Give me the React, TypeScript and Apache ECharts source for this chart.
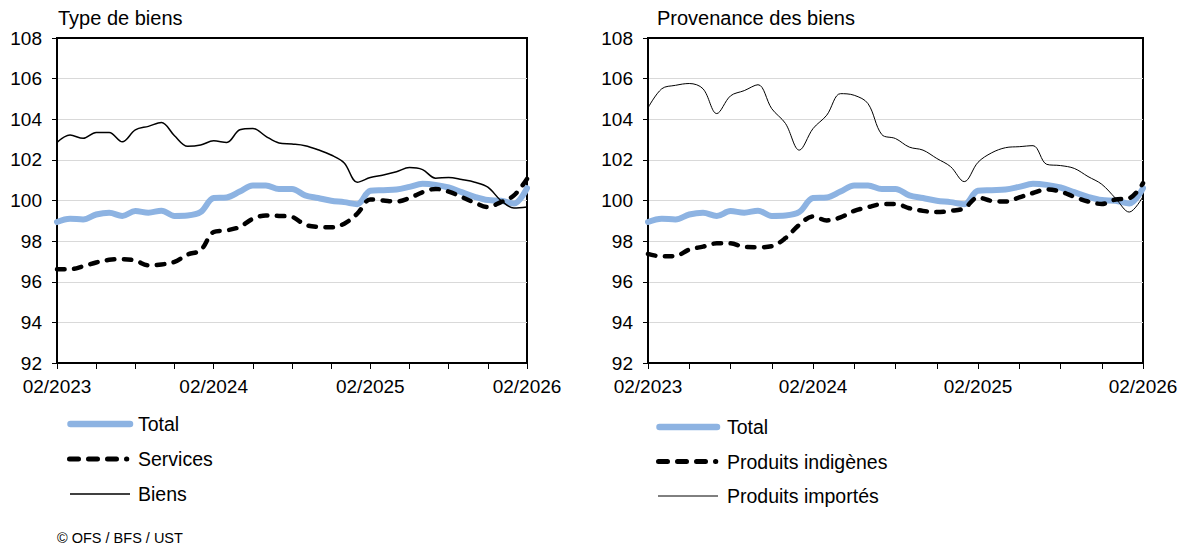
import React, { useEffect, useRef } from "react";
import * as echarts from "echarts";

const months: string[] = [
  "02/2023", "03/2023", "04/2023", "05/2023", "06/2023", "07/2023", "08/2023", "09/2023", "10/2023", "11/2023", "12/2023", "01/2024",
  "02/2024", "03/2024", "04/2024", "05/2024", "06/2024", "07/2024", "08/2024", "09/2024", "10/2024", "11/2024", "12/2024", "01/2025",
  "02/2025", "03/2025", "04/2025", "05/2025", "06/2025", "07/2025", "08/2025", "09/2025", "10/2025", "11/2025", "12/2025", "01/2026",
  "02/2026",
];

const total: number[] = [
  98.94, 99.1, 99.07, 99.31, 99.4, 99.24, 99.48, 99.4, 99.5, 99.24, 99.26, 99.43,
  100.12, 100.15, 100.44, 100.74, 100.74, 100.57, 100.57, 100.25, 100.12, 99.99, 99.92, 99.82,
  100.48, 100.51, 100.54, 100.67, 100.82, 100.77, 100.64, 100.41, 100.18, 100.02, 99.99, 99.85,
  100.61,
];

const services: number[] = [
  96.62, 96.62, 96.76, 96.95, 97.08, 97.11, 97.04, 96.81, 96.85, 96.98, 97.34, 97.55,
  98.45, 98.53, 98.7, 99.1, 99.26, 99.24, 99.19, 98.81, 98.7, 98.68, 98.86, 99.35,
  100.05, 100.0, 99.95, 100.12, 100.41, 100.57, 100.44, 100.17, 99.89, 99.68, 99.92, 100.25,
  101.06,
];

const biens: number[] = [
  102.86, 103.22, 103.06, 103.35, 103.35, 102.89, 103.48, 103.65, 103.84, 103.19, 102.67, 102.73,
  102.94, 102.86, 103.48, 103.55, 103.16, 102.83, 102.78, 102.7, 102.5, 102.24, 101.85, 100.9,
  101.13, 101.26, 101.42, 101.62, 101.52, 101.1, 101.13, 101.03, 100.9, 100.66, 100.0, 99.63,
  99.68,
];

const indigenes: number[] = [
  97.37, 97.25, 97.27, 97.58, 97.73, 97.89, 97.89, 97.71, 97.7, 97.75, 98.15, 98.8,
  99.22, 99.02, 99.17, 99.49, 99.67, 99.82, 99.83, 99.62, 99.49, 99.43, 99.49, 99.62,
  100.15, 99.98, 99.95, 100.15, 100.37, 100.55, 100.44, 100.18, 99.95, 99.83, 100.05, 100.11,
  100.85,
];

const importes: number[] = [
  104.56, 105.5, 105.67, 105.76, 105.5, 104.28, 105.15, 105.41, 105.7, 104.52, 103.79, 102.48,
  103.54, 104.2, 105.26, 105.18, 104.77, 103.25, 103.05, 102.63, 102.48, 102.07, 101.67, 100.93,
  101.88, 102.35, 102.6, 102.65, 102.7, 101.78, 101.72, 101.58, 101.18, 100.8, 100.11, 99.43,
  100.2,
];

const leftLegend: string[] = ["Total", "Services", "Biens"];
const rightLegend: string[] = ["Total", "Produits indigènes", "Produits importés"];

const FONT = '"Liberation Sans", Arial, sans-serif';
const BLUE = "#8db3e2";
const DASH = [7.5, 9.5];

export default function App() {
  const ref = useRef<HTMLDivElement>(null);

  useEffect(() => {
    document.body.style.margin = "0";
    if (!ref.current) return;
    const chart = echarts.init(ref.current, undefined, { renderer: "svg" });

    const makeX = (gridIndex: number) => ({
      type: "category" as const,
      gridIndex,
      data: months,
      boundaryGap: false,
      axisLine: { show: true, onZero: false, lineStyle: { color: "#000", width: 2 } },
      axisTick: {
        show: true,
        interval: (i: number) => i % 3 === 0,
        length: 6,
        lineStyle: { color: "#000", width: 1 },
      },
      axisLabel: {
        interval: (i: number) => i % 12 === 0,
        color: "#000",
        fontSize: 19,
        fontFamily: FONT,
        margin: 14,
      },
      splitLine: { show: false },
    });

    const makeY = (gridIndex: number) => ({
      type: "value" as const,
      gridIndex,
      min: 92,
      max: 108,
      interval: 2,
      axisLine: { show: true, lineStyle: { color: "#000", width: 2 } },
      axisTick: { show: true, length: 5, lineStyle: { color: "#000", width: 1 } },
      axisLabel: { color: "#000", fontSize: 19, fontFamily: FONT, margin: 15 },
      splitLine: { show: true, showMinLine: false, showMaxLine: false, lineStyle: { color: "#d9d9d9", width: 1 } },
    });

    const totalStyle = { color: BLUE, width: 6, cap: "round" as const, join: "round" as const };
    const dashStyle = { color: "#000", width: 4.5, type: DASH, cap: "round" as const, join: "round" as const };

    const legendText = (x: number, y: number, text: string) => ({
      type: "text",
      x,
      y,
      style: { text, fontSize: 19.5, fill: "#000", fontFamily: FONT, verticalAlign: "middle", align: "left" },
    });
    const legendLine = (x1: number, x2: number, y: number, style: any) => ({
      type: "line",
      shape: { x1, y1: y, x2, y2: y },
      style,
    });

    const lTotal = { stroke: BLUE, lineWidth: 6.5, lineCap: "round" };
    const lDash = { stroke: "#000", lineWidth: 5, lineCap: "round", lineDash: [9, 10] };

    const option: any = {
      animation: false,
      textStyle: { fontFamily: FONT },
      title: [
        { text: "Type de biens", left: 58, top: 8, padding: 0, textStyle: { fontSize: 20, fontWeight: "normal", color: "#000", fontFamily: FONT } },
        { text: "Provenance des biens", left: 657, top: 8, padding: 0, textStyle: { fontSize: 20, fontWeight: "normal", color: "#000", fontFamily: FONT } },
      ],
      grid: [
        { left: 57, right: 655, top: 38, bottom: 183, show: true, borderColor: "#000", borderWidth: 2, backgroundColor: "transparent" },
        { left: 648, right: 39, top: 38, bottom: 183, show: true, borderColor: "#000", borderWidth: 2, backgroundColor: "transparent" },
      ],
      xAxis: [makeX(0), makeX(1)],
      yAxis: [makeY(0), makeY(1)],
      graphic: [
        legendLine(70.5, 130, 424, lTotal),
        legendText(138, 424, leftLegend[0]),
        legendLine(69.5, 126.8, 459, lDash),
        legendText(138, 459, leftLegend[1]),
        legendLine(70, 130, 494, { stroke: "#000", lineWidth: 1.5 }),
        legendText(138, 494, leftLegend[2]),
        legendLine(659.5, 717, 427, lTotal),
        legendText(727, 427, rightLegend[0]),
        legendLine(658.5, 715.8, 461.5, lDash),
        legendText(727, 461.5, rightLegend[1]),
        legendLine(658, 718, 496, { stroke: "#000", lineWidth: 1 }),
        legendText(727, 496, rightLegend[2]),
        {
          type: "text",
          x: 57,
          y: 538,
          style: { text: "© OFS / BFS / UST", fontSize: 14.5, fill: "#000", fontFamily: FONT, verticalAlign: "middle" },
        },
      ],
      series: [
        { name: "Total", type: "line", xAxisIndex: 0, yAxisIndex: 0, data: total, smooth: 0.35, symbol: "none", lineStyle: totalStyle },
        { name: "Services", type: "line", xAxisIndex: 0, yAxisIndex: 0, data: services, smooth: 0.35, symbol: "none", lineStyle: dashStyle },
        { name: "Biens", type: "line", xAxisIndex: 0, yAxisIndex: 0, data: biens, smooth: 0.35, symbol: "none", lineStyle: { color: "#000", width: 1.5 } },
        { name: "Total ", type: "line", xAxisIndex: 1, yAxisIndex: 1, data: total, smooth: 0.35, symbol: "none", lineStyle: totalStyle },
        { name: "Produits indigènes", type: "line", xAxisIndex: 1, yAxisIndex: 1, data: indigenes, smooth: 0.35, symbol: "none", lineStyle: dashStyle },
        { name: "Produits importés", type: "line", xAxisIndex: 1, yAxisIndex: 1, data: importes, smooth: 0.35, symbol: "none", lineStyle: { color: "#000", width: 1 } },
      ],
    };

    chart.setOption(option);
    return () => {
      chart.dispose();
    };
  }, []);

  return <div ref={ref} style={{ width: 1182, height: 546 }} />;
}
